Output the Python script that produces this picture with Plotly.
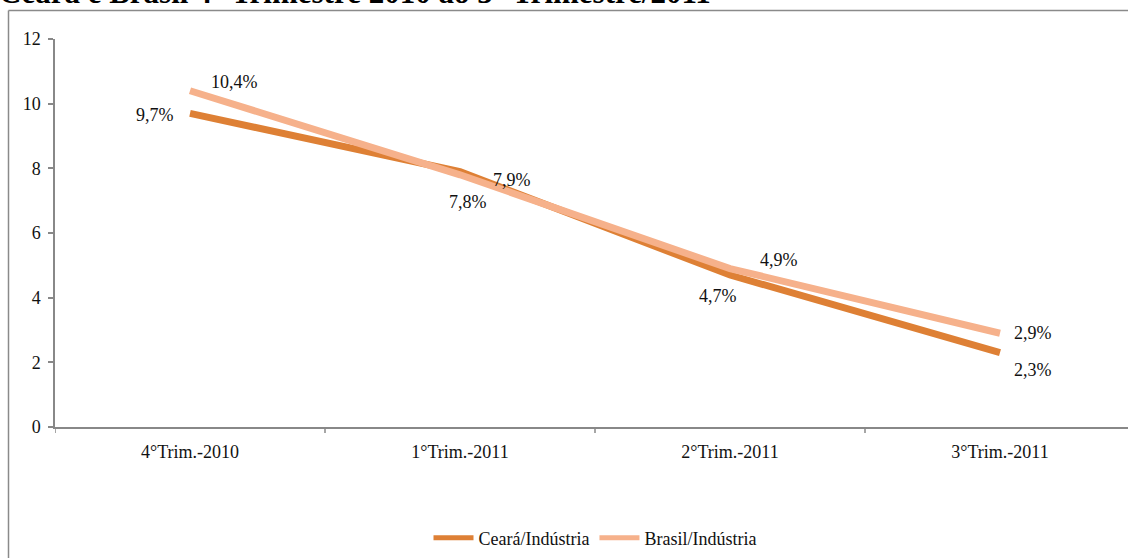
import plotly.graph_objects as go

categorias = ["4°Trim.-2010", "1°Trim.-2011", "2°Trim.-2011", "3°Trim.-2011"]
ceara = [9.7, 7.9, 4.7, 2.3]
brasil = [10.4, 7.8, 4.9, 2.9]
rotulos_ceara = ["9,7%", "7,9%", "4,7%", "2,3%"]
rotulos_brasil = ["10,4%", "7,8%", "4,9%", "2,9%"]
titulo = "Ceará e Brasil 4° Trimestre 2010 ao 3° Trimestre/2011"

FONT = "'Liberation Serif', 'Times New Roman', serif"
COR_CE = "#DE8035"
COR_BR = "#F6B18B"

W, H = 1128, 558
L, R, T, B = 55, 0, 39, 131
pw = W - L - R
ph = H - T - B

def px(x):
    return (x - L) / pw

def py(y):
    return (H - B - y) / ph

fig = go.Figure()
fig.add_trace(go.Scatter(x=list(range(4)), y=ceara, mode="lines", name="Ceará/Indústria",
                         line=dict(color=COR_CE, width=7)))
fig.add_trace(go.Scatter(x=list(range(4)), y=brasil, mode="lines", name="Brasil/Indústria",
                         line=dict(color=COR_BR, width=7)))

# data labels (offsets in pixels)
off_ce = [(-35, 2), (52, 8), (-12, 21), (33, 17)]
off_br = [(44, -9), (8, 27), (49, -9), (33, 0)]
for i in range(4):
    fig.add_annotation(x=i, y=ceara[i], text=rotulos_ceara[i], showarrow=False,
                       xshift=off_ce[i][0], yshift=-off_ce[i][1],
                       font=dict(family=FONT, size=18, color="#111"))
    fig.add_annotation(x=i, y=brasil[i], text=rotulos_brasil[i], showarrow=False,
                       xshift=off_br[i][0], yshift=-off_br[i][1],
                       font=dict(family=FONT, size=18, color="#111"))

# title (cut off at top, as in the reference)
fig.add_annotation(xref="paper", yref="paper", x=px(-3), y=py(12), xanchor="left", yanchor="bottom",
                   text="<b>" + titulo + "</b>", showarrow=False,
                   font=dict(family=FONT, size=31, color="#000"))

# outer frame
fig.add_shape(type="line", xref="paper", yref="paper", x0=px(8.5), x1=px(8.5), y0=py(10.5), y1=py(600),
              line=dict(color="#8a8a8a", width=1.5))
fig.add_shape(type="line", xref="paper", yref="paper", x0=px(8.5), x1=px(1200), y0=py(10.5), y1=py(10.5),
              line=dict(color="#8a8a8a", width=1.5))

fig.update_layout(
    width=W, height=H,
    margin=dict(l=L, r=R, t=T, b=B),
    paper_bgcolor="white", plot_bgcolor="white",
    font=dict(family=FONT, size=18, color="#111"),
    showlegend=True,
    legend=dict(orientation="h", x=px(595), xanchor="center", y=py(538), yanchor="middle",
                font=dict(family=FONT, size=18, color="#111"), itemwidth=40,
                tracegroupgap=0, itemsizing="constant"),
)
fig.update_xaxes(
    range=[-0.5, (1128 - 190) / 270.0],
    tickvals=list(range(4)), ticktext=categorias,
    showline=True, linecolor="#888", linewidth=1.5,
    showgrid=False, zeroline=False, ticks="", ticklabelstandoff=8,
)
# boundary ticks between categories
for k in range(5):
    fig.add_shape(type="line", xref="x", yref="paper", x0=k - 0.5, x1=k - 0.5, y0=0, y1=-6 / ph,
                  line=dict(color="#888", width=1.5))
fig.update_yaxes(
    range=[0, 12], dtick=2, showline=True, linecolor="#888", linewidth=1.5,
    ticks="outside", ticklen=5, tickcolor="#888", tickwidth=1.5,
    showgrid=False, zeroline=False, ticklabelstandoff=4,
)

fig.write_html("out.html", config={"displayModeBar": False},
               post_script="document.body.style.margin='0';document.body.style.overflow='hidden';")
